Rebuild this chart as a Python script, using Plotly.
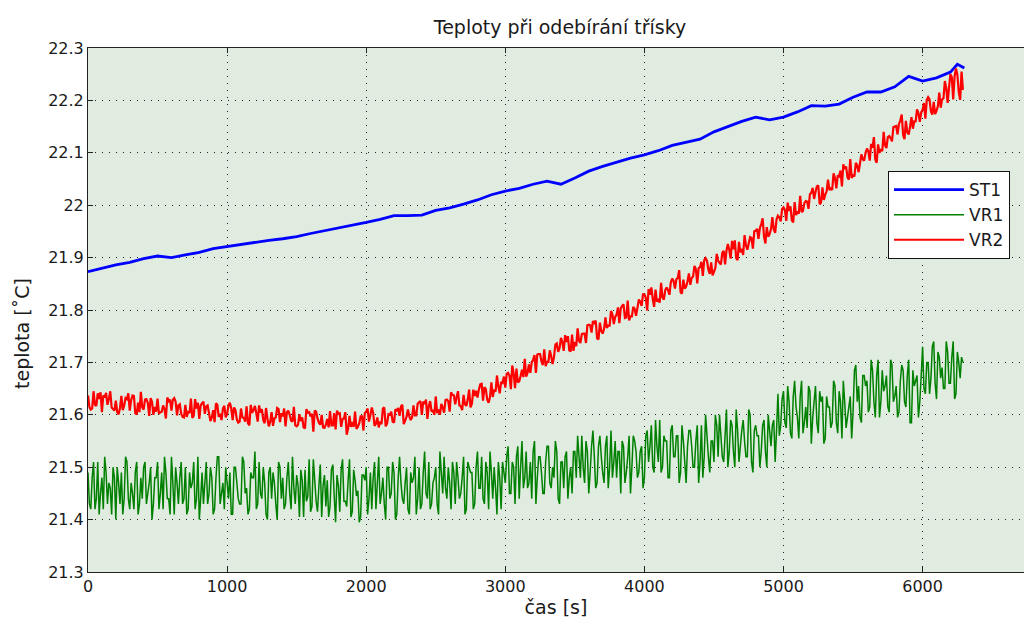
import numpy as np
import plotly.graph_objects as go

# ---------------- data ----------------
st1_t = [0, 100, 200, 300, 400, 500, 600, 700, 800, 900, 1000, 1100, 1200, 1300, 1400,
         1500, 1600, 1700, 1800, 1900, 2000, 2100, 2200, 2300, 2400, 2500, 2600, 2700,
         2800, 2900, 3000, 3100, 3200, 3300, 3400, 3500, 3600, 3700, 3800, 3900, 4000,
         4100, 4200, 4300, 4400, 4500, 4600, 4700, 4800, 4900, 5000, 5100, 5200, 5300,
         5400, 5500, 5600, 5700, 5800, 5900, 6000, 6100, 6200, 6250, 6300]
st1 = [21.873, 21.880, 21.886, 21.891, 21.898, 21.903, 21.900, 21.905, 21.910, 21.917,
       21.921, 21.925, 21.930, 21.933, 21.936, 21.940, 21.946, 21.951, 21.956, 21.962,
       21.967, 21.973, 21.980, 21.980, 21.981, 21.990, 21.995, 22.002, 22.010, 22.020,
       22.027, 22.032, 22.040, 22.046, 22.040, 22.052, 22.065, 22.074, 22.082, 22.090,
       22.096, 22.104, 22.114, 22.120, 22.126, 22.140, 22.150, 22.160, 22.168, 22.163,
       22.168, 22.178, 22.190, 22.189, 22.193, 22.206, 22.216, 22.216, 22.226, 22.246,
       22.237, 22.243, 22.254, 22.269, 22.262]

# VR1 / VR2 readings at t = 0, 20, 40, ... 6280 s
vr_t_a = np.arange(0, 6300, 20)
# VR1 / VR2 readings at t = 10, 30, 50, ... 6290 s
vr_t_b = np.arange(10, 6300, 20)

vr1_a = [
    21.49, 21.42, 21.51, 21.44, 21.41, 21.48, 21.52, 21.43, 21.46, 21.50, 21.40, 21.47, 21.49, 21.44, 21.51, 21.42, 21.45, 21.49, 21.41, 21.48, 21.50, 21.43, 21.47, 21.40, 21.48,
    21.51, 21.45, 21.42, 21.49, 21.44, 21.52, 21.41, 21.47, 21.48, 21.43, 21.50, 21.42, 21.46, 21.51, 21.44, 21.40, 21.49, 21.47, 21.43, 21.50, 21.41, 21.48, 21.52, 21.45, 21.42,
    21.47, 21.49, 21.41, 21.50, 21.44, 21.43, 21.51, 21.46, 21.42, 21.48, 21.53, 21.43, 21.45, 21.50, 21.41, 21.49, 21.44, 21.47, 21.40, 21.50, 21.48, 21.43, 21.51, 21.42, 21.46,
    21.485, 21.405, 21.475, 21.495, 21.445, 21.415, 21.515, 21.435, 21.465, 21.405, 21.485, 21.475, 21.425, 21.505, 21.395, 21.465, 21.495, 21.435, 21.425, 21.515, 21.415, 21.475, 21.455, 21.405, 21.485,
    21.50, 21.44, 21.42, 21.51, 21.47, 21.43, 21.48, 21.40, 21.50, 21.45, 21.49, 21.41, 21.52, 21.44, 21.47, 21.42, 21.49, 21.48, 21.41, 21.50, 21.43, 21.53, 21.44, 21.42, 21.47,
    21.50, 21.41, 21.49, 21.52, 21.44, 21.47, 21.51, 21.43, 21.48, 21.45, 21.52, 21.42, 21.50, 21.49, 21.43, 21.53, 21.46, 21.44, 21.51, 21.42, 21.49, 21.50, 21.41, 21.48, 21.51,
    21.47, 21.54, 21.45, 21.50, 21.52, 21.44, 21.55, 21.48, 21.46, 21.51, 21.53, 21.43, 21.52, 21.49, 21.45, 21.54, 21.47, 21.50, 21.55, 21.44, 21.51, 21.46, 21.53, 21.48, 21.45,
    21.53, 21.56, 21.48, 21.50, 21.55, 21.45, 21.54, 21.52, 21.47, 21.56, 21.49, 21.54, 21.46, 21.57, 21.51, 21.48, 21.53, 21.55, 21.47, 21.52, 21.45, 21.56, 21.53, 21.49, 21.54,
    21.48, 21.57, 21.54, 21.50, 21.59, 21.51, 21.49, 21.56, 21.55, 21.48, 21.58, 21.52, 21.56, 21.49, 21.55, 21.47, 21.57, 21.54, 21.50, 21.58, 21.51, 21.48, 21.60, 21.52, 21.55,
    21.51, 21.58, 21.60, 21.52, 21.56, 21.50, 21.59, 21.53, 21.61, 21.51, 21.57, 21.55, 21.52, 21.60, 21.49, 21.58, 21.56, 21.53, 21.59, 21.50, 21.57, 21.58, 21.51, 21.64, 21.58,
    21.645, 21.575, 21.625, 21.555, 21.665, 21.595, 21.635, 21.565, 21.615, 21.655, 21.545, 21.625, 21.585, 21.645, 21.635, 21.555, 21.615, 21.575, 21.665, 21.585, 21.645, 21.555, 21.625, 21.595, 21.635,
    21.605, 21.695, 21.655, 21.585, 21.675, 21.665, 21.615, 21.685, 21.595, 21.705, 21.625, 21.645, 21.675, 21.605, 21.695, 21.635, 21.595, 21.665, 21.685, 21.615, 21.705, 21.585, 21.655, 21.675, 21.625,
    21.73, 21.64, 21.70, 21.67, 21.74, 21.63, 21.71, 21.69, 21.65, 21.72, 21.66, 21.74, 21.64, 21.70, 21.71,
]
vr1_b = [
    21.43, 21.48, 21.42, 21.51, 21.45, 21.42, 21.49, 21.47, 21.41, 21.48, 21.50, 21.43, 21.41, 21.52, 21.44, 21.47, 21.42, 21.51, 21.43, 21.44, 21.51, 21.45, 21.50, 21.43, 21.48,
    21.42, 21.49, 21.52, 21.44, 21.41, 21.47, 21.50, 21.43, 21.51, 21.44, 21.41, 21.49, 21.47, 21.42, 21.52, 21.44, 21.43, 21.51, 21.45, 21.48, 21.42, 21.52, 21.43, 21.47, 21.50,
    21.44, 21.41, 21.50, 21.47, 21.43, 21.52, 21.45, 21.41, 21.49, 21.48, 21.42, 21.51, 21.44, 21.47, 21.40, 21.50, 21.49, 21.43, 21.51, 21.44, 21.42, 21.48, 21.45, 21.52, 21.43,
    21.465, 21.495, 21.405, 21.435, 21.515, 21.425, 21.475, 21.415, 21.505, 21.465, 21.425, 21.405, 21.495, 21.445, 21.485, 21.415, 21.515, 21.435, 21.475, 21.405, 21.495, 21.445, 21.395, 21.485, 21.475,
    21.41, 21.49, 21.48, 21.42, 21.52, 21.45, 21.43, 21.50, 21.44, 21.51, 21.40, 21.48, 21.47, 21.43, 21.50, 21.41, 21.47, 21.52, 21.44, 21.42, 21.49, 21.45, 21.51, 21.43, 21.48,
    21.43, 21.53, 21.45, 21.46, 21.50, 21.42, 21.49, 21.51, 21.44, 21.48, 21.41, 21.51, 21.49, 21.42, 21.50, 21.46, 21.52, 21.43, 21.49, 21.53, 21.44, 21.46, 21.51, 21.42, 21.49,
    21.52, 21.45, 21.51, 21.43, 21.54, 21.50, 21.46, 21.53, 21.47, 21.44, 21.55, 21.48, 21.52, 21.45, 21.51, 21.54, 21.46, 21.48, 21.53, 21.43, 21.51, 21.52, 21.44, 21.50, 21.53,
    21.48, 21.52, 21.56, 21.47, 21.53, 21.49, 21.57, 21.46, 21.54, 21.52, 21.47, 21.56, 21.50, 21.48, 21.55, 21.53, 21.45, 21.54, 21.49, 21.56, 21.50, 21.55, 21.48, 21.53, 21.46,
    21.56, 21.51, 21.58, 21.49, 21.54, 21.59, 21.50, 21.55, 21.48, 21.57, 21.52, 21.56, 21.47, 21.58, 21.51, 21.54, 21.57, 21.50, 21.55, 21.47, 21.58, 21.52, 21.56, 21.49, 21.55,
    21.60, 21.52, 21.56, 21.51, 21.61, 21.53, 21.58, 21.50, 21.57, 21.54, 21.59, 21.52, 21.61, 21.51, 21.57, 21.56, 21.50, 21.58, 21.53, 21.60, 21.54, 21.59, 21.57, 21.56, 21.63,
    21.585, 21.655, 21.565, 21.635, 21.615, 21.555, 21.665, 21.585, 21.575, 21.645, 21.595, 21.655, 21.565, 21.625, 21.545, 21.635, 21.615, 21.585, 21.655, 21.565, 21.625, 21.665, 21.575, 21.615, 21.555,
    21.685, 21.625, 21.595, 21.675, 21.655, 21.605, 21.705, 21.625, 21.675, 21.595, 21.685, 21.655, 21.615, 21.705, 21.625, 21.655, 21.605, 21.695, 21.625, 21.675, 21.585, 21.685, 21.665, 21.595, 21.675,
    21.65, 21.70, 21.64, 21.73, 21.66, 21.72, 21.67, 21.65, 21.74, 21.66, 21.71, 21.63, 21.72, 21.67, 21.70,
]

vr2_a = [
    21.637, 21.610, 21.645, 21.617, 21.630, 21.605, 21.633, 21.619, 21.645, 21.611,
    21.627, 21.601, 21.636, 21.618, 21.630, 21.608, 21.637, 21.603, 21.623, 21.644,
    21.610, 21.630, 21.598, 21.625, 21.615, 21.631, 21.605, 21.618, 21.593, 21.626,
    21.608, 21.632, 21.599, 21.620, 21.596, 21.619, 21.607, 21.631, 21.598, 21.612,
    21.592, 21.622, 21.602, 21.618, 21.588, 21.609, 21.622, 21.596, 21.590, 21.617,
    21.601, 21.623, 21.590, 21.609, 21.585, 21.612, 21.594, 21.616, 21.580, 21.604,
    21.617, 21.587, 21.604, 21.590, 21.613, 21.578, 21.605, 21.593, 21.613, 21.586,
    21.597, 21.578, 21.608, 21.589, 21.615, 21.578, 21.601, 21.595, 21.574, 21.604,
    21.597, 21.568, 21.606, 21.585, 21.600, 21.575, 21.592, 21.607, 21.580, 21.572,
    21.602, 21.577, 21.593, 21.562, 21.598, 21.586, 21.606, 21.577, 21.597, 21.570,
    21.606, 21.587, 21.614, 21.579, 21.595, 21.587, 21.612, 21.578, 21.601, 21.606,
    21.585, 21.607, 21.598, 21.619, 21.589, 21.610, 21.590, 21.618, 21.599, 21.624,
    21.600, 21.621, 21.592, 21.626, 21.609, 21.635, 21.610, 21.621, 21.604, 21.629,
    21.606, 21.638, 21.620, 21.645, 21.616, 21.638, 21.617, 21.648, 21.621, 21.636,
    21.633, 21.658, 21.627, 21.649, 21.623, 21.662, 21.648, 21.675, 21.641, 21.661,
    21.652, 21.680, 21.649, 21.679, 21.688, 21.664, 21.686, 21.707, 21.680, 21.680,
    21.705, 21.680, 21.716, 21.702, 21.725, 21.701, 21.723, 21.697, 21.734, 21.720,
    21.747, 21.722, 21.739, 21.723, 21.753, 21.739, 21.765, 21.737, 21.755, 21.737,
    21.772, 21.757, 21.773, 21.746, 21.776, 21.755, 21.786, 21.770, 21.798, 21.773,
    21.791, 21.775, 21.808, 21.785, 21.818, 21.788, 21.806, 21.789, 21.820, 21.808,
    21.830, 21.799, 21.829, 21.821, 21.839, 21.821, 21.852, 21.820, 21.843, 21.829,
    21.860, 21.841, 21.861, 21.834, 21.858, 21.845, 21.870, 21.861, 21.884, 21.851,
    21.882, 21.865, 21.899, 21.877, 21.891, 21.873, 21.907, 21.890, 21.909, 21.887,
    21.926, 21.898, 21.916, 21.899, 21.930, 21.917, 21.943, 21.915, 21.939, 21.917,
    21.951, 21.936, 21.964, 21.940, 21.958, 21.945, 21.977, 21.947, 21.980, 21.969,
    21.996, 21.970, 21.989, 21.971, 22.006, 21.988, 22.018, 21.989, 22.008, 21.993,
    22.024, 22.012, 22.036, 22.002, 22.034, 22.020, 22.049, 22.032, 22.061, 22.032,
    22.055, 22.036, 22.069, 22.053, 22.088, 22.057, 22.081, 22.063, 22.097, 22.085,
    22.108, 22.085, 22.110, 22.087, 22.116, 22.107, 22.140, 22.109, 22.132, 22.122,
    22.150, 22.135, 22.162, 22.134, 22.161, 22.135, 22.168, 22.160, 22.183, 22.159,
    22.182, 22.165, 22.206, 22.179, 22.197, 22.180, 22.215, 22.202, 22.237, 22.195,
    22.250, 22.202, 22.261, 22.216, 22.255,
]
vr2_b = [
    21.615, 21.612, 21.619, 21.641, 21.643, 21.637, 21.642, 21.630, 21.614, 21.608,
    21.605, 21.613, 21.609, 21.632, 21.641, 21.628, 21.636, 21.601, 21.605, 21.614,
    21.629, 21.623, 21.632, 21.600, 21.606, 21.602, 21.606, 21.611, 21.633, 21.629,
    21.629, 21.625, 21.618, 21.602, 21.595, 21.596, 21.603, 21.594, 21.630, 21.623,
    21.618, 21.625, 21.616, 21.603, 21.595, 21.586, 21.619, 21.602, 21.612, 21.595,
    21.618, 21.612, 21.614, 21.591, 21.587, 21.595, 21.587, 21.584, 21.619, 21.609,
    21.603, 21.618, 21.611, 21.584, 21.592, 21.587, 21.579, 21.595, 21.611, 21.603,
    21.612, 21.605, 21.600, 21.587, 21.580, 21.581, 21.588, 21.576, 21.611, 21.605,
    21.602, 21.608, 21.593, 21.581, 21.576, 21.581, 21.576, 21.580, 21.603, 21.608,
    21.603, 21.592, 21.605, 21.574, 21.577, 21.577, 21.573, 21.584, 21.597, 21.603,
    21.612, 21.599, 21.604, 21.583, 21.576, 21.582, 21.614, 21.583, 21.600, 21.587,
    21.611, 21.613, 21.616, 21.582, 21.596, 21.597, 21.595, 21.599, 21.621, 21.626,
    21.625, 21.629, 21.617, 21.606, 21.600, 21.603, 21.600, 21.614, 21.628, 21.626,
    21.643, 21.637, 21.634, 21.618, 21.609, 21.620, 21.629, 21.614, 21.648, 21.646,
    21.648, 21.659, 21.653, 21.629, 21.634, 21.634, 21.644, 21.654, 21.663, 21.673,
    21.678, 21.675, 21.694, 21.651, 21.662, 21.674, 21.672, 21.673, 21.696, 21.700,
    21.714, 21.715, 21.716, 21.695, 21.693, 21.701, 21.712, 21.710, 21.736, 21.727,
    21.739, 21.752, 21.750, 21.721, 21.722, 21.731, 21.741, 21.754, 21.755, 21.771,
    21.771, 21.779, 21.780, 21.744, 21.760, 21.764, 21.766, 21.770, 21.792, 21.787,
    21.805, 21.803, 21.811, 21.786, 21.780, 21.788, 21.802, 21.804, 21.816, 21.830,
    21.823, 21.840, 21.843, 21.806, 21.816, 21.814, 21.824, 21.838, 21.838, 21.853,
    21.855, 21.859, 21.876, 21.831, 21.841, 21.855, 21.848, 21.864, 21.878, 21.880,
    21.892, 21.895, 21.894, 21.869, 21.866, 21.880, 21.894, 21.887, 21.913, 21.913,
    21.915, 21.932, 21.933, 21.895, 21.910, 21.905, 21.924, 21.927, 21.937, 21.950,
    21.955, 21.956, 21.975, 21.927, 21.940, 21.954, 21.954, 21.973, 21.977, 21.993,
    21.991, 22.005, 21.998, 21.967, 21.981, 21.984, 21.987, 22.004, 22.007, 22.021,
    22.033, 22.025, 22.038, 22.005, 22.010, 22.026, 22.029, 22.029, 22.052, 22.057,
    22.066, 22.078, 22.074, 22.049, 22.052, 22.055, 22.076, 22.080, 22.088, 22.100,
    22.103, 22.117, 22.130, 22.081, 22.100, 22.103, 22.114, 22.130, 22.128, 22.149,
    22.151, 22.155, 22.173, 22.126, 22.139, 22.150, 22.146, 22.160, 22.176, 22.177,
    22.195, 22.201, 22.202, 22.173, 22.174, 22.189, 22.186, 22.204, 22.224, 22.225,
    22.244, 22.246, 22.249, 22.201, 22.220,
]

x_ticks = [0, 1000, 2000, 3000, 4000, 5000, 6000]
y_ticks = [21.3, 21.4, 21.5, 21.6, 21.7, 21.8, 21.9, 22.0, 22.1, 22.2, 22.3]
y_tick_labels = ["21.3", "21.4", "21.5", "21.6", "21.7", "21.8", "21.9", "22", "22.1", "22.2", "22.3"]

# merge the two reading sets in time order
vr_t = np.empty(len(vr_t_a) + len(vr_t_b))
vr_t[0::2], vr_t[1::2] = vr_t_a, vr_t_b
vr1 = np.empty_like(vr_t)
vr1[0::2], vr1[1::2] = vr1_a, vr1_b
vr2 = np.empty_like(vr_t)
vr2[0::2], vr2[1::2] = vr2_a, vr2_b

# ---------------- figure ----------------
FONT = "DejaVu Sans"
INK = "#1a1a1a"

fig = go.Figure()
fig.add_trace(go.Scatter(x=st1_t, y=st1, mode="lines", name="ST1",
                         line=dict(color="#0000FF", width=2.8)))
fig.add_trace(go.Scatter(x=vr_t, y=vr1, mode="lines", name="VR1",
                         line=dict(color="#008000", width=1.5, simplify=False)))
fig.add_trace(go.Scatter(x=vr_t, y=vr2, mode="lines", name="VR2",
                         line=dict(color="#FF0000", width=2.2, simplify=False)))

fig.update_layout(
    width=1024, height=628,
    margin=dict(l=88, r=0, t=48, b=56),
    paper_bgcolor="white",
    plot_bgcolor="#E1ECE1",
    font=dict(family=FONT, size=16, color=INK),
    title=dict(text="Teploty při odebírání třísky", x=(560 - 88) / 936, xref="paper",
               y=1 - 27 / 628, yref="container", yanchor="middle", xanchor="center",
               font=dict(family=FONT, size=19, color=INK)),
    showlegend=True,
    legend=dict(x=(888 - 88) / 936, y=(572 - 171) / 524, xanchor="left", yanchor="top",
                bgcolor="white", bordercolor="#111", borderwidth=1,
                font=dict(family=FONT, size=17, color=INK), itemwidth=70,
                tracegroupgap=0),
    annotations=[dict(text="teplota [˚C]", textangle=-90, xref="paper", yref="paper",
                      x=-(88 - 22) / 936, y=(572 - 334) / 524, xanchor="center",
                      yanchor="middle", showarrow=False,
                      font=dict(family=FONT, size=19, color=INK))],
)

fig.update_xaxes(
    range=[0, 6729], tickvals=x_ticks, ticktext=[str(v) for v in x_ticks],
    ticks="inside", ticklen=5, tickcolor="#222", showline=True, linecolor="#222",
    linewidth=1, mirror="ticks", showgrid=True, gridcolor="#222", gridwidth=1,
    griddash="1px,6px", zeroline=False,
    title=dict(text="čas [s]", font=dict(family=FONT, size=19, color=INK), standoff=4),
    tickfont=dict(family=FONT, size=16, color=INK),
)
fig.update_yaxes(
    range=[21.3, 22.3], tickvals=y_ticks, ticktext=y_tick_labels,
    ticks="inside", ticklen=5, tickcolor="#222", showline=True, linecolor="#222",
    linewidth=1, mirror=False, showgrid=True, gridcolor="#222", gridwidth=1,
    griddash="1px,6px", zeroline=False,
    tickfont=dict(family=FONT, size=16, color=INK),
)

fig.write_html("out.html")
